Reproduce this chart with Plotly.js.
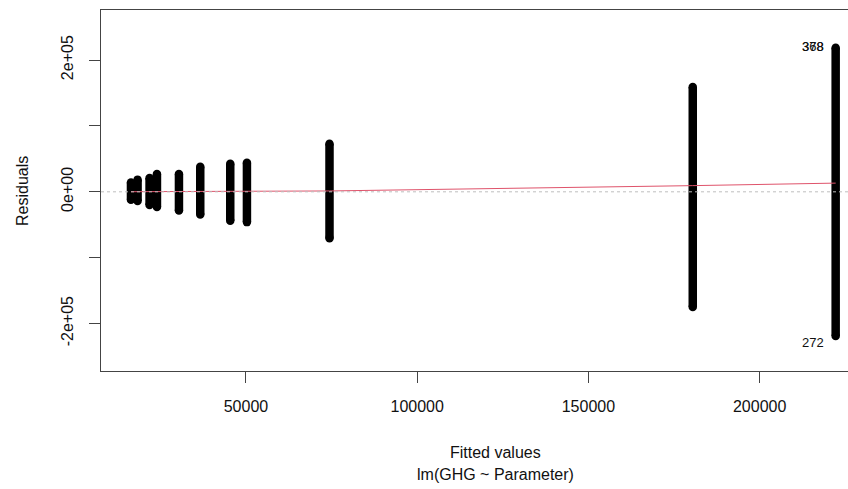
<!DOCTYPE html>
<html>
<head>
<meta charset="utf-8">
<script src="https://cdn.plot.ly/plotly-3.0.1.min.js"></script>
<style>html,body{margin:0;padding:0;background:#fff;}#plot{width:848px;height:489px;}</style>
</head>
<body>
<div id="plot"></div>
<script>
// Fitted-value clusters (x) and the residual extent of each cluster
var fitted = [16430, 18360, 21860, 24020, 30440, 36660, 45420, 50290, 74400, 180470, 222200];
var residMax = [14000, 18500, 21000, 27000, 27000, 38000, 42500, 44000, 72800, 159000, 218700];
var residMin = [-12000, -14000, -20000, -23000, -28500, -34500, -44000, -46000, -70400, -175000, -219000];

// Lowess smooth (red line) evaluated at the cluster fitted values
var smoothY = [200, 200, 250, 300, 350, 400, 500, 500, 1300, 9400, 13200];

// Tick labels
var xTickVals = [50000, 100000, 150000, 200000];
var xTickText = ["50000", "100000", "150000", "200000"];
var yTickVals = [-200000, -100000, 0, 100000, 200000];
var yTickText = ["-2e+05", "", "0e+00", "", "2e+05"];

// Identified points
var idLabels = ["368", "378", "272"];
var idX = [222200, 222200, 222200];
var idY = [218700, 218700, -219000];

var bx = [], by = [];
for (var i = 0; i < fitted.length; i++) {
  bx.push(fitted[i], fitted[i], null);
  by.push(residMin[i], residMax[i], null);
}

var font = "Liberation Sans, Arial, sans-serif";

var traces = [
  {
    x: bx, y: by, type: "scatter", mode: "lines+markers",
    line: {color: "#000", width: 8.5},
    marker: {color: "#000", size: 8.5, symbol: "circle", line: {width: 0}},
    hoverinfo: "skip", showlegend: false
  },
  {
    x: fitted, y: smoothY, type: "scatter", mode: "lines",
    line: {color: "#DF536B", width: 1},
    hoverinfo: "skip", showlegend: false
  }
];

var annotations = [
  {text: "Fitted values", xref: "paper", yref: "paper", x: 0.5277, y: -0.227,
   showarrow: false, xanchor: "center", yanchor: "middle", font: {family: font, size: 16, color: "#111"}},
  {text: "lm(GHG ~ Parameter)", xref: "paper", yref: "paper", x: 0.5277, y: -0.288,
   showarrow: false, xanchor: "center", yanchor: "middle", font: {family: font, size: 16, color: "#111"}},
  {text: "Residuals", xref: "paper", yref: "paper", x: -0.1058, y: 0.4986, textangle: -90,
   showarrow: false, xanchor: "center", yanchor: "middle", font: {family: font, size: 16, color: "#111"}}
];
for (var j = 0; j < idLabels.length; j++) {
  annotations.push({
    text: idLabels[j], x: idX[j], y: idY[j], xref: "x", yref: "y",
    showarrow: false, xanchor: "right", yanchor: "middle",
    xshift: -10, yshift: j === 2 ? -6 : 1,
    font: {family: font, size: 13, color: "#111"}
  });
}

var layout = {
  width: 848, height: 489,
  margin: {l: 101, r: 0, t: 10, b: 118},
  paper_bgcolor: "#fff", plot_bgcolor: "#fff",
  showlegend: false,
  xaxis: {
    range: [7680, 225800], tickvals: xTickVals, ticktext: xTickText,
    ticks: "outside", ticklen: 11, tickwidth: 1, tickcolor: "#444",
    showline: true, mirror: true, linecolor: "#444", linewidth: 1,
    showgrid: false, zeroline: false,
    tickfont: {family: font, size: 16, color: "#111"}, ticklabelstandoff: 10
  },
  yaxis: {
    range: [-272000, 276000], tickvals: yTickVals, ticktext: yTickText,
    ticks: "outside", ticklen: 11, tickwidth: 1, tickcolor: "#444",
    showline: true, mirror: false, linecolor: "#444", linewidth: 1,
    showgrid: false, zeroline: false, tickangle: -90,
    tickfont: {family: font, size: 16, color: "#111"}, ticklabelstandoff: 10
  },
  shapes: [
    {type: "line", xref: "paper", yref: "y", x0: 0, x1: 1, y0: 0, y1: 0,
     line: {color: "#BEBEBE", width: 1, dash: "dot"}, layer: "above"}
  ],
  annotations: annotations
};

Plotly.newPlot("plot", traces, layout, {staticPlot: true, displayModeBar: false});
</script>
</body>
</html>
